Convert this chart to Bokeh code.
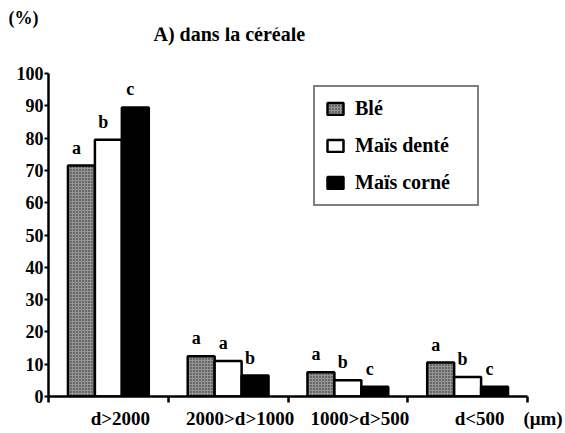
from bokeh.plotting import figure
from bokeh.models import Range1d, FixedTicker, Label, ColumnDataSource, LinearAxis
from bokeh.core.properties import value
from bokeh.embed import file_html
from bokeh.resources import INLINE

categories = ["d>2000", "2000>d>1000", "1000>d>500", "d<500"]
series = ["Blé", "Maïs denté", "Maïs corné"]
ble = [71.5, 12.5, 7.5, 10.5]
mais_dente = [79.5, 11, 5, 6]
mais_corne = [89.5, 6.5, 3, 3]
letters_ble = ["a", "a", "a", "a"]
letters_dente = ["b", "a", "b", "b"]
letters_corne = ["c", "b", "c", "c"]
y_ticks = list(range(0, 101, 10))
unit_label = "(μm)"
y_unit = "(%)"
title = "A) dans la céréale"

FONT = "Liberation Serif"
N = len(categories)
Y_MAX = 100.0
X_END = N * 517 / 479        # frame runs to the right canvas edge; axis line stops at N
Y_END = Y_MAX * 369 / 323    # frame runs up to the title area; axis line stops at 100

p = figure(width=565, height=433, x_range=Range1d(0, X_END), y_range=Range1d(0, Y_END),
           output_backend="svg", toolbar_location=None,
           min_border_left=48, min_border_right=0, min_border_top=27, min_border_bottom=37)
p.outline_line_color = None
p.grid.visible = False

W = 0.225
fills = ["#959595", "white", "black"]
vals = [ble, mais_dente, mais_corne]
lets = [letters_ble, letters_dente, letters_corne]
for j, (name, v, fc, lt) in enumerate(zip(series, vals, fills, lets)):
    xs = [i + 0.5 + (j - 1) * W for i in range(N)]
    src = ColumnDataSource(dict(x=xs, top=v, lab=lt))
    kw = {}
    if j == 0:
        kw = dict(hatch_pattern="dot", hatch_color="#222222", hatch_scale=3, hatch_weight=1)
    p.vbar(x="x", top="top", width=W, bottom=0, source=src, fill_color=fc,
           line_color="black", line_width=2.5, legend_label=name, **kw)
    p.text(x="x", y="top", text="lab", source=src, x_offset=-5, y_offset=-18,
           text_font=value(FONT), text_font_style="bold", text_font_size="18px",
           text_align="center", text_baseline="middle", text_color="black")

# y axis
yax = p.yaxis[0]
yax.bounds = (0, Y_MAX)
yax.ticker = FixedTicker(ticks=y_ticks, minor_ticks=[])
yax.axis_line_width = 2.5
yax.axis_line_color = "black"
yax.major_tick_out = 4
yax.major_tick_in = 0
yax.major_tick_line_width = 2
yax.minor_tick_out = 0
yax.minor_tick_in = 0
yax.major_label_standoff = 1
yax.major_label_text_font = FONT
yax.major_label_text_font_style = "bold"
yax.major_label_text_font_size = "18px"
yax.major_label_text_color = "black"

# x axis line with tick marks between categories
xax = p.xaxis[0]
xax.bounds = (0, N)
xax.ticker = FixedTicker(ticks=[], minor_ticks=list(range(N + 1)))
xax.axis_line_width = 2.5
xax.axis_line_color = "black"
xax.major_tick_out = 0
xax.major_tick_in = 0
xax.minor_tick_out = 6
xax.minor_tick_in = 0
xax.minor_tick_line_width = 2.5
xax.major_label_standoff = 0

# category labels (slightly right of the group centres) and the unit
lab_pos = [i + 0.6 for i in range(N)]
unit_pos = N + 0.13
lab_axis = LinearAxis(ticker=FixedTicker(ticks=lab_pos + [unit_pos], minor_ticks=[]))
lab_axis.major_label_overrides = {**{pos: c for pos, c in zip(lab_pos, categories)}, unit_pos: unit_label}
lab_axis.axis_line_color = None
lab_axis.major_tick_line_color = None
lab_axis.minor_tick_line_color = None
lab_axis.major_tick_out = 0
lab_axis.major_tick_in = 0
lab_axis.minor_tick_out = 0
lab_axis.major_label_standoff = 5
lab_axis.major_label_text_font = FONT
lab_axis.major_label_text_font_style = "bold"
lab_axis.major_label_text_font_size = "19px"
lab_axis.major_label_text_color = "black"
p.add_layout(lab_axis, "below")

# "(%)" above the y axis
p.title.text = y_unit
p.title.align = "left"
p.title.offset = -40
p.title.standoff = 0
p.title.text_font = FONT
p.title.text_font_style = "bold"
p.title.text_font_size = "18px"
p.title.text_color = "black"

# panel heading inside the (extended) frame
p.add_layout(Label(x=0.877, y=112.3, text=title,
                   text_font=FONT, text_font_style="bold", text_font_size="20px",
                   text_align="left", text_baseline="middle", text_color="black"))

lg = p.legend[0]
lg.location = (265, 190)
lg.border_line_color = "black"
lg.border_line_width = 2.5
lg.background_fill_color = "white"
lg.background_fill_alpha = 1
lg.label_text_font = FONT
lg.label_text_font_style = "bold"
lg.label_text_font_size = "20px"
lg.label_text_color = "black"
lg.glyph_width = 20
lg.glyph_height = 15
lg.label_height = 22
lg.label_width = 112
lg.spacing = 14
lg.padding = 10
lg.margin = 0
lg.label_standoff = 10

open("out.html", "w").write(file_html(p, INLINE))
